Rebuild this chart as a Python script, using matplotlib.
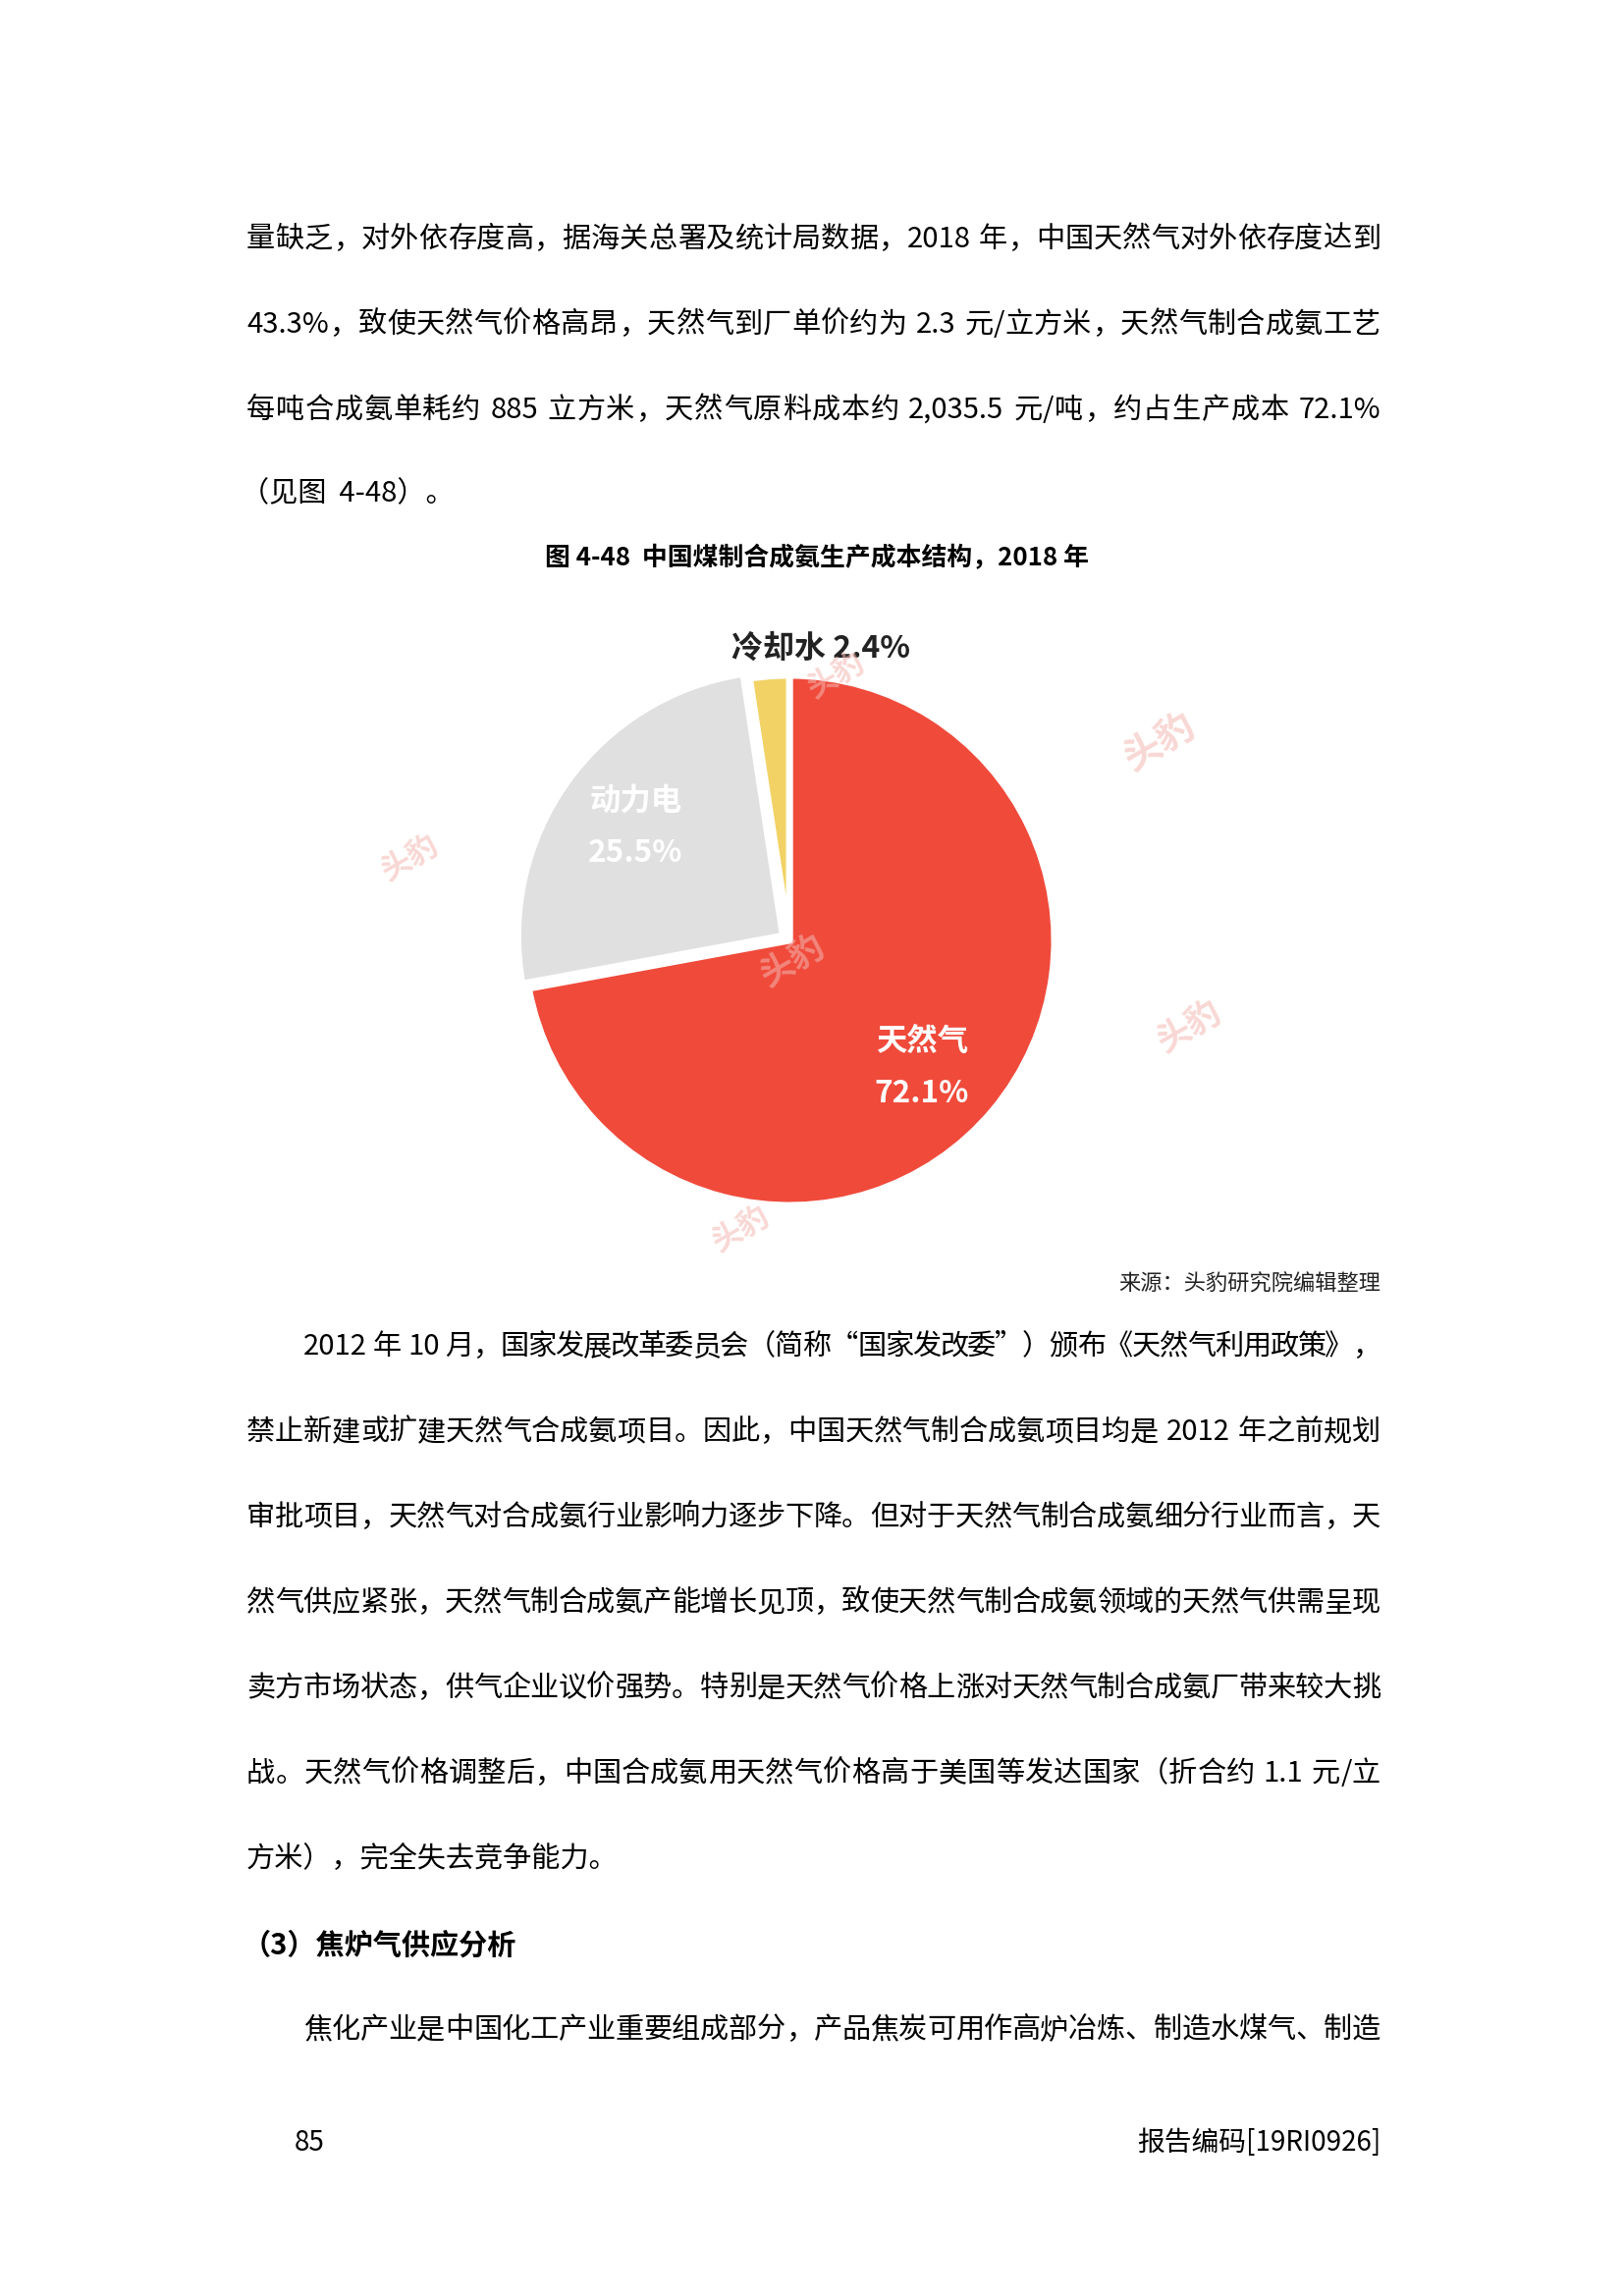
import re
import matplotlib
matplotlib.use("Agg")
import matplotlib.pyplot as plt

plt.rcParams['font.family'] = ['Noto Sans CJK SC', 'DejaVu Sans']

# --- chart data ---
labels = ["天然气", "动力电", "冷却水"]
shares = [72.1, 25.5, 2.4]
colors = ["#f04a3b", "#e0e0e0", "#f2d264"]
explode = [0.0, 0.03, 0.0]

title = "图 4-48  中国煤制合成氨生产成本结构，2018 年"
source = "来源：头豹研究院编辑整理"

para1 = [
    "量缺乏，对外依存度高，据海关总署及统计局数据，2018 年，中国天然气对外依存度达到",
    "43.3%，致使天然气价格高昂，天然气到厂单价约为 2.3 元/立方米，天然气制合成氨工艺",
    "每吨合成氨单耗约 885 立方米，天然气原料成本约 2,035.5 元/吨，约占生产成本 72.1%",
]
para1_end = "（见图  4-48）。"
para2 = [
    "2012 年 10 月，国家发展改革委员会（简称“国家发改委”）颁布《天然气利用政策》，",
    "禁止新建或扩建天然气合成氨项目。因此，中国天然气制合成氨项目均是 2012 年之前规划",
    "审批项目，天然气对合成氨行业影响力逐步下降。但对于天然气制合成氨细分行业而言，天",
    "然气供应紧张，天然气制合成氨产能增长见顶，致使天然气制合成氨领域的天然气供需呈现",
    "卖方市场状态，供气企业议价强势。特别是天然气价格上涨对天然气制合成氨厂带来较大挑",
    "战。天然气价格调整后，中国合成氨用天然气价格高于美国等发达国家（折合约 1.1 元/立",
]
para2_end = "方米），完全失去竞争能力。"
heading = "（3）焦炉气供应分析"
para3 = ["焦化产业是中国化工产业重要组成部分，产品焦炭可用作高炉冶炼、制造水煤气、制造"]
page_no = "85"
report_code = "报告编码[19RI0926]"

W, H, DPI = 1654, 2339, 200
fig = plt.figure(figsize=(W / DPI, H / DPI), dpi=DPI)
fig.patch.set_facecolor("white")
renderer = fig.canvas.get_renderer()

BODY = 10.5
LEFT, RIGHT = 251, 1406
INDENT = 309
STEP = 87


def fx(x):
    return x / W


def fy(y):
    return 1 - y / H


def put(s, x, y, size=BODY, ha="left", **kw):
    return fig.text(fx(x), fy(y), s, fontsize=size, ha=ha, va="center", **kw)


def put_justified(s, x0, x1, y, size=BODY, **kw):
    # split into ascii runs and single CJK chars, spread the slack between them
    tokens = re.findall(r"[\x21-\x7e]+| |.", s)
    space_w = 0.28 * size * DPI / 72
    items, total = [], 0
    for tk in tokens:
        if tk == " ":
            items.append((None, space_w))
            total += space_w
            continue
        t = put(tk, 0, y, size, **kw)
        w = t.get_window_extent(renderer).width
        items.append((t, w))
        total += w
    gap = (x1 - x0 - total) / max(len(items) - 1, 1)
    x = x0
    for t, w in items:
        if t is not None:
            t.set_x(fx(x))
        x += w + gap


# --- paragraph 1 ---
for i, line in enumerate(para1):
    put_justified(line, LEFT, RIGHT, 243.6 + i * STEP)
put(para1_end, LEFT - 6, 503.6)

# --- figure title ---
put(title, 832, 569, size=9.3, ha="center", weight="bold")

# --- pie ---
R = 270
cx, cy = 804, 958
k = 1.35
ax = fig.add_axes([fx(cx - k * R), fy(cy + k * R), 2 * k * R / W, 2 * k * R / H])

wedges, texts = ax.pie(
    shares,
    labels=[f"{l}\n{v}%" for l, v in zip(labels, shares)],
    colors=colors,
    explode=explode,
    startangle=90,
    counterclock=False,
    labeldistance=0.72,
    radius=1,
    wedgeprops=dict(edgecolor="white", linewidth=2.5),
    textprops=dict(color="white", fontsize=11.3, weight="bold", linespacing=1.85,
                   ha="center", va="center"),
)
# pie() resets the limits, so set them afterwards
ax.set_xlim(-k, k)
ax.set_ylim(-k, k)
ax.set_aspect("equal")
ax.axis("off")

texts[0].set_position((0.50, -0.48))
texts[1].set_position((-0.58, 0.43))
# small slice gets its label outside, on one line
texts[2].set_text(f"{labels[2]} {shares[2]}%")
texts[2].set_position((0.12, 1.10))
texts[2].set_color("#222222")
texts[2].set_fontsize(11.5)

# faint watermarks
for (wx, wy, s) in [(1181, 755, 10), (418, 874, 8), (807, 979, 9), (1211, 1046, 9),
                    (755, 1252, 8), (852, 688, 8)]:
    put("头豹", wx, wy, size=s * 1.4, ha="center", color="#f3b7b1", alpha=0.55,
        rotation=30, weight="bold")

# --- source ---
put(source, RIGHT, 1308, size=8, ha="right", style="italic", color="#222222")

# --- paragraph 2 ---
put_justified(para2[0], INDENT, RIGHT, 1372)
for i, line in enumerate(para2[1:]):
    put_justified(line, LEFT, RIGHT, 1459 + i * STEP)
put(para2_end, LEFT, 1894)

# --- heading + paragraph 3 ---
put(heading, LEFT - 4, 1982, weight="bold")
put_justified(para3[0], INDENT, RIGHT, 2068)

# --- footer ---
put(page_no, 300, 2183, size=10)
put(report_code, RIGHT, 2183, size=10, ha="right")

fig.savefig("out.png", dpi=DPI, facecolor="white")
